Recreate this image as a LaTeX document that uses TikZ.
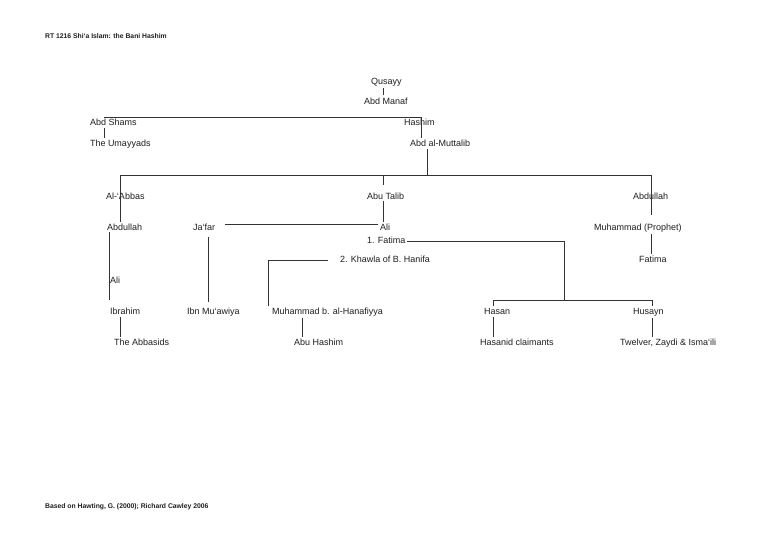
\documentclass[tikz,border=0pt]{standalone}
\usepackage{fontspec}
\newfontfamily\dgfont{Liberation Sans}
\usetikzlibrary{calc}
\newcommand{\dgname}{\dgfont\fontsize{9}{11}\selectfont}
\newcommand{\dgsmall}{\dgfont\bfseries\fontsize{6.8}{8}\selectfont}
\begin{document}
\begin{tikzpicture}[x=1pt,y=-1pt,
  person/.style={anchor=base west, inner sep=0pt, outer sep=2pt, font=\dgname, text=black!88},
  note/.style={anchor=base west, inner sep=0pt, font=\dgsmall, text=black!88},
  link/.style={line width=0.75pt, draw=black!80}]
\fill[white] (0,0) rectangle (768,543);
\useasboundingbox (0,0) rectangle (768,543);

% header and footer
\node[note] (title) at (45,38.2) {RT 1216 Shi‘a Islam: the Bani Hashim};
\node[note] (footer) at (45,508.6) {Based on Hawting, G. (2000); Richard Cawley 2006};

% people
\node[person] (qusayy) at (369,84.5) {Qusayy};
\node[person] (abdmanaf) at (362,104) {Abd Manaf};
\node[person] (abdshams) at (88,125.5) {Abd Shams};
\node[person] (hashim) at (402,125.5) {Hashim};
\node[person] (umayyads) at (88,146.5) {The Umayyads};
\node[person] (muttalib) at (408,146.5) {Abd al-Muttalib};
\node[person] (abbas) at (104,199.3) {Al-‘Abbas};
\node[person] (abutalib) at (365,199.3) {Abu Talib};
\node[person] (abdullahR) at (631,199.3) {Abdullah};
\node[person] (abdullahL) at (105,230.3) {Abdullah};
\node[person] (jafar) at (191,230.3) {Ja‘far};
\node[person] (ali) at (378,230.3) {Ali};
\node[person] (prophet) at (592,230.3) {Muhammad (Prophet)};
\node[person] (fatima1) at (365,243) {1. Fatima};
\node[person] (khawla) at (338,262.5) {2. Khawla of B. Hanifa};
\node[person] (fatimaR) at (637,262.5) {Fatima};
\node[person] (aliL) at (108,283.3) {Ali};
\node[person] (ibrahim) at (108,314.5) {Ibrahim};
\node[person] (ibnmuawiya) at (185,314.5) {Ibn Mu‘awiya};
\node[person] (hanafiyya) at (270,314.5) {Muhammad b. al-Hanafiyya};
\node[person] (hasan) at (482,314.5) {Hasan};
\node[person] (husayn) at (631,314.5) {Husayn};
\node[person] (abbasids) at (112,345.5) {The Abbasids};
\node[person] (abuhashim) at (292,345.5) {Abu Hashim};
\node[person] (hasanid) at (478,345.5) {Hasanid claimants};
\node[person] (twelver) at (618,345.5) {Twelver, Zaydi \& Isma‘ili};

% junction coordinates
\coordinate (b1L) at (104,117.5);
\coordinate (b1R) at (421.5,117.5);
\coordinate (m1) at (427,175.5);
\coordinate (b2L) at (120.5,175.5);
\coordinate (b2R) at (651.5,175.5);
\coordinate (r1) at (651.5,215);
\coordinate (at1) at (383,175.5);
\coordinate (at2) at (383,185);
\coordinate (jl) at (225,224.5);
\coordinate (jv) at (208,237);
\coordinate (jv2) at (208,302);
\coordinate (lv) at (109,300);
\coordinate (f1) at (407,241.5);
\coordinate (f2) at (564,241.5);
\coordinate (f3) at (564,300);
\coordinate (h1) at (493,300);
\coordinate (h2) at (652,300);
\coordinate (k1) at (328,260.5);
\coordinate (k2) at (268,260.5);
\coordinate (ah) at (302,318);

% connectors
\draw[link] (qusayy.south -| at1) -- (abdmanaf.north -| at1);
\draw[link] (b1L) -- (b1R) -- (b1R |- muttalib.north);
\draw[link] (abdshams.south -| b1L) -- (umayyads.north -| b1L);
\draw[link] (muttalib.south -| m1) -- (m1);
\draw[link] (b2L |- abdullahL.north) -- (b2L) -- (b2R) -- (r1);
\draw[link] (at1) -- (at2);
\draw[link] (abutalib.south -| at1) -- (ali.north -| at1);
\draw[link] (jl) -- (jl -| ali.west);
\draw[link] (jv) -- (jv2);
\draw[link] (abdullahL.south -| lv) -- (lv);
\draw[link] (ibrahim.south -| b2L) -- (abbasids.north -| b2L);
\draw[link] (f1) -- (f2) -- (f3);
\draw[link] (hasan.north -| h1) -- (h1) -- (h2) -- (husayn.north -| h2);
\draw[link] (hasan.south -| h1) -- (hasanid.north -| h1);
\draw[link] (husayn.south -| h2) -- (twelver.north -| h2);
\draw[link] (k1) -- (k2) -- (k2 |- hanafiyya.north);
\draw[link] (hanafiyya.south -| ah) -- (abuhashim.north -| ah);
\draw[link] (prophet.south -| b2R) -- (fatimaR.north -| b2R);
\end{tikzpicture}
\end{document}
